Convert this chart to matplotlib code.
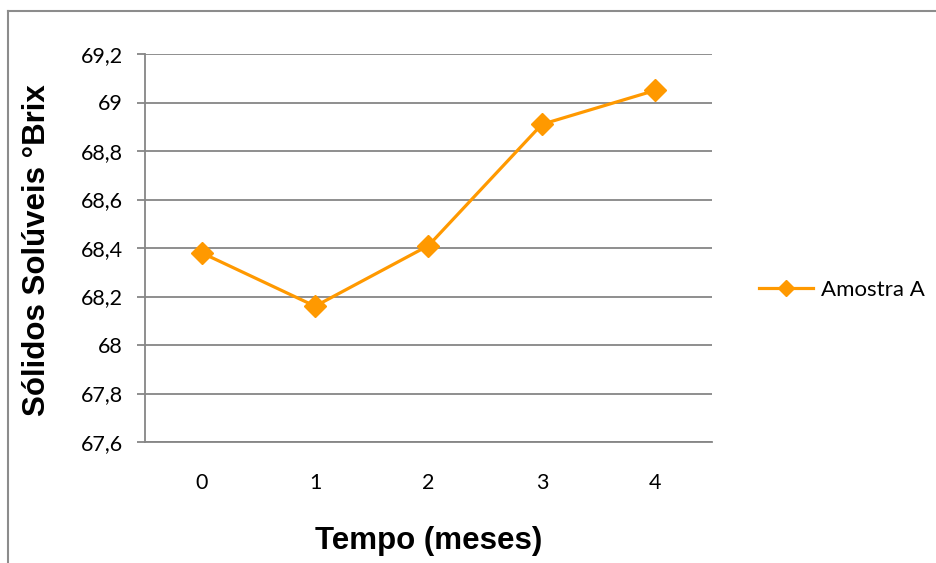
import matplotlib
matplotlib.use("Agg")
import matplotlib.pyplot as plt
from matplotlib.lines import Line2D
from matplotlib.ticker import FuncFormatter

meses = [0, 1, 2, 3, 4]
amostra_a = [68.38, 68.16, 68.41, 68.91, 69.05]
yticks = [67.6, 67.8, 68.0, 68.2, 68.4, 68.6, 68.8, 69.0, 69.2]

W, H = 937, 563
fig = plt.figure(figsize=(W / 100, H / 100), dpi=100)
ax = fig.add_axes([145 / W, 1 - 442 / H, (712 - 145) / W, (442 - 54) / H])

orange = "#FF9900"
grid = "#868686"
tick_font = "Lato"

ax.plot(meses, amostra_a, color=orange, lw=2.3, marker="D", ms=11,
        mfc=orange, mec=orange, label="Amostra A", zorder=3)

ax.set_xlim(-0.5, 4.5)
ax.set_ylim(67.6, 69.2)
ax.set_yticks(yticks)
ax.set_xticks(meses)

def fmt(v, pos):
    s = f"{v:.1f}".rstrip("0").rstrip(".")
    return s.replace(".", ",")
ax.yaxis.set_major_formatter(FuncFormatter(fmt))

for y in yticks:
    ax.axhline(y, color=grid, lw=1.3, zorder=1)

for s in ["top", "right"]:
    ax.spines[s].set_visible(False)
ax.spines["left"].set_color(grid)
ax.spines["left"].set_linewidth(1.3)
ax.spines["bottom"].set_color(grid)
ax.spines["bottom"].set_linewidth(1.3)

ax.tick_params(axis="y", length=6, width=1.3, color=grid, pad=10,
               labelsize=15.5, labelfontfamily=tick_font)
ax.tick_params(axis="x", length=0, pad=22, labelsize=15.5,
               labelfontfamily=tick_font)

fig.text(37 / W, 1 - 250 / H, "Sólidos Solúveis °Brix", rotation=90,
         ha="center", va="center", fontsize=22.5, fontweight="bold",
         family="Liberation Sans")
fig.text(429 / W, 1 - 541 / H, "Tempo (meses)", ha="center", va="center",
         fontsize=22.5, fontweight="bold", family="Liberation Sans")

leg = fig.legend(loc="center left", bbox_to_anchor=(750 / W, 1 - 290 / H),
                 frameon=False, prop={"family": tick_font, "size": 16},
                 handlelength=2.45, markerscale=0.7, handletextpad=0.35,
                 borderaxespad=0)

# outer chart border
fig.add_artist(Line2D([8 / W, 1.0], [1 - 11 / H, 1 - 11 / H],
                      transform=fig.transFigure, color="#8C8C8C", lw=1.5))
fig.add_artist(Line2D([8 / W, 8 / W], [1 - 11 / H, 0.0],
                      transform=fig.transFigure, color="#8C8C8C", lw=1.5))

fig.savefig("out.png", dpi=100)
